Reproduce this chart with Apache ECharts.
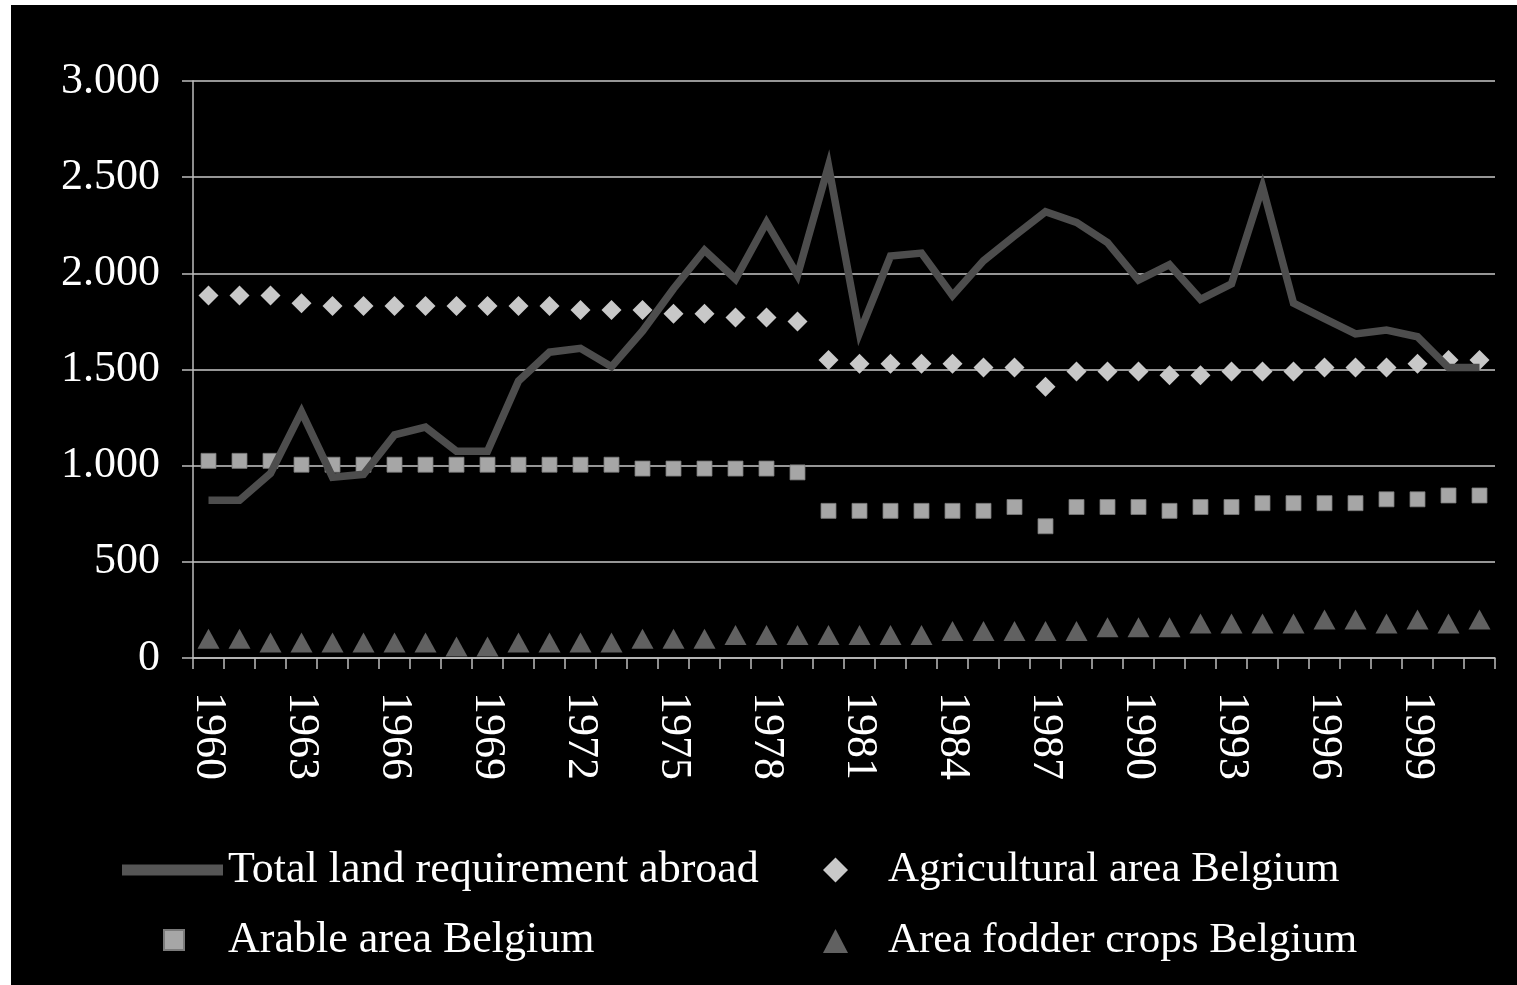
<!DOCTYPE html>
<html>
<head>
<meta charset="utf-8">
<script src="https://cdn.jsdelivr.net/npm/echarts@6/dist/echarts.min.js"></script>
<style>
  html, body { margin: 0; padding: 0; background: #ffffff; }
  #chart { position: absolute; left: 11px; top: 5px; width: 1506px; height: 980px; background: #000000; }
</style>
</head>
<body>
<div id="chart"></div>
<script>
// Years 1960-2001
const years = [];
for (let y = 1960; y <= 2001; y++) years.push(String(y));

// Land areas (1000 ha)
const totalAbroad = [
  820, 820, 960, 1280, 940, 955, 1160, 1200, 1075, 1075,
  1440, 1590, 1610, 1515, 1700, 1920, 2120, 1970, 2265, 1990,
  2560, 1690, 2090, 2105, 1885, 2065, 2195, 2320, 2265, 2160,
  1965, 2045, 1865, 1945, 2450, 1845, 1765, 1685, 1705, 1670,
  1510, 1510
];
const agriculturalBE = [
  1885, 1885, 1885, 1845, 1830, 1830, 1830, 1830, 1830, 1830,
  1830, 1830, 1810, 1810, 1810, 1790, 1790, 1770, 1770, 1750,
  1550, 1530, 1530, 1530, 1530, 1510, 1510, 1410, 1490, 1490,
  1490, 1470, 1470, 1490, 1490, 1490, 1510, 1510, 1510, 1530,
  1550, 1550
];
const arableBE = [
  1025, 1025, 1025, 1005, 1005, 1005, 1005, 1005, 1005, 1005,
  1005, 1005, 1005, 1005, 985, 985, 985, 985, 985, 965,
  765, 765, 765, 765, 765, 765, 785, 685, 785, 785,
  785, 765, 785, 785, 805, 805, 805, 805, 825, 825,
  845, 845
];
const fodderBE = [
  100, 100, 80, 80, 80, 80, 80, 80, 60, 60,
  80, 80, 80, 80, 100, 100, 100, 120, 120, 120,
  120, 120, 120, 120, 140, 140, 140, 140, 140, 160,
  160, 160, 180, 180, 180, 180, 200, 200, 180, 200,
  180, 200
];

const names = [
  'Total land requirement abroad',
  'Agricultural area Belgium',
  'Arable area Belgium',
  'Area fodder crops Belgium'
];

const FONT = 'Liberation Serif, Times New Roman, serif';
const legendText = (padLeft, size) => ({
  color: '#ffffff', fontFamily: FONT, fontSize: size || 44, lineHeight: 44,
  padding: [0, 0, 6, padLeft]
});

const chart = echarts.init(document.getElementById('chart'));
chart.setOption({
  backgroundColor: '#000000',
  animation: false,
  grid: { left: 182, right: 22, top: 76, bottom: 327, containLabel: false },
  xAxis: {
    type: 'category',
    data: years,
    boundaryGap: true,
    axisLine: { show: true, lineStyle: { color: '#bdbdbd', width: 1.5 } },
    axisTick: { show: true, interval: 0, length: 11, lineStyle: { color: '#bdbdbd', width: 1.5 } },
    axisLabel: {
      interval: 2, rotate: -90, margin: 34,
      color: '#ffffff', fontFamily: FONT, fontSize: 44
    },
    splitLine: { show: false }
  },
  yAxis: {
    type: 'value',
    min: 0, max: 3000, interval: 500,
    axisLine: { show: true, lineStyle: { color: '#bdbdbd', width: 1.5 } },
    axisTick: { show: true, length: 11, lineStyle: { color: '#bdbdbd', width: 1.5 } },
    axisLabel: {
      margin: 33, color: '#ffffff', fontFamily: FONT, fontSize: 44,
      formatter: v => String(v).replace(/\B(?=(\d{3})+(?!\d))/g, '.')
    },
    splitLine: { show: true, lineStyle: { color: '#c8c8c8', width: 1.5 } }
  },
  legend: [
    { data: [names[0]], left: 106, top: 835, icon: 'rect', itemWidth: 101, itemHeight: 11, textStyle: legendText(0) },
    { data: [names[1]], left: 807, top: 835, icon: 'diamond', itemWidth: 25, itemHeight: 25, textStyle: legendText(35, 43) },
    { data: [names[2]], left: 147, top: 905, icon: 'rect', itemWidth: 20, itemHeight: 20, textStyle: legendText(39) },
    { data: [names[3]], left: 807, top: 906, icon: 'triangle', itemWidth: 25, itemHeight: 24, textStyle: legendText(35, 43) }
  ],
  series: [
    {
      name: names[0], type: 'line', data: totalAbroad,
      symbol: 'none',
      lineStyle: { color: '#4d4d4d', width: 7.5, join: 'miter' },
      itemStyle: { color: '#555555' }
    },
    {
      name: names[1], type: 'scatter', data: agriculturalBE,
      symbol: 'diamond', symbolSize: 20,
      itemStyle: { color: '#c8c8c8', opacity: 1 }
    },
    {
      name: names[2], type: 'scatter', data: arableBE,
      symbol: 'rect', symbolSize: 15,
      itemStyle: { color: '#a6a6a6', borderColor: '#7a7a7a', borderWidth: 0.8, opacity: 1 }
    },
    {
      name: names[3], type: 'scatter', data: fodderBE,
      symbol: 'triangle', symbolSize: [22, 20],
      itemStyle: { color: '#616161', opacity: 1 }
    }
  ]
});
</script>
</body>
</html>
